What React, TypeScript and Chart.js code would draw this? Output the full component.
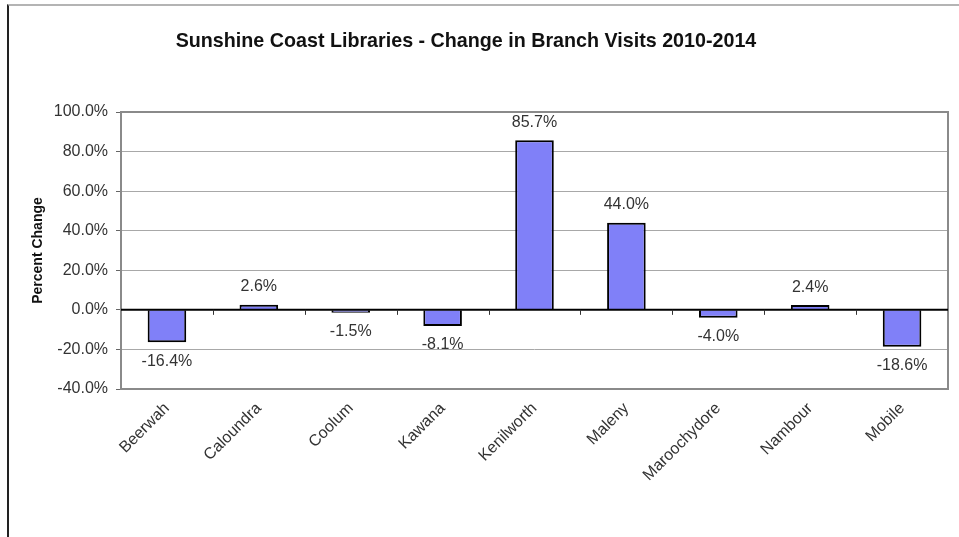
import React, { useEffect, useRef } from "react";
import { Chart, registerables } from "chart.js";

Chart.register(...registerables);

const TITLE = "Sunshine Coast Libraries - Change in Branch Visits 2010-2014";
const Y_TITLE = "Percent Change";
const branches = ["Beerwah", "Caloundra", "Coolum", "Kawana", "Kenilworth", "Maleny", "Maroochydore", "Nambour", "Mobile"];
const changePct = [-16.4, 2.6, -1.5, -8.1, 85.7, 44.0, -4.0, 2.4, -18.6];
const yTicks = [-40, -20, 0, 20, 40, 60, 80, 100];

const FONT = "Arial, 'Liberation Sans', sans-serif";

const overlay = {
  id: "overlay",
  beforeDatasetsDraw(chart: any) {
    const { ctx, chartArea } = chart;
    ctx.save();
    ctx.strokeStyle = "#8a8a8a";
    ctx.lineWidth = 2;
    ctx.strokeRect(chartArea.left, chartArea.top, chartArea.right - chartArea.left, chartArea.bottom - chartArea.top);
    ctx.restore();
  },
  afterDatasetsDraw(chart: any) {
    const { ctx, chartArea, scales } = chart;
    const xs = scales.x;
    const ys = scales.y;
    const y0 = ys.getPixelForValue(0);
    ctx.save();
    ctx.strokeStyle = "#000";
    ctx.lineWidth = 2;
    ctx.beginPath();
    ctx.moveTo(chartArea.left, y0);
    ctx.lineTo(chartArea.right, y0);
    ctx.stroke();
    ctx.lineWidth = 1;
    ctx.strokeStyle = "#333";
    for (let i = 1; i < branches.length; i++) {
      const x = Math.round((xs.getPixelForValue(i - 1) + xs.getPixelForValue(i)) / 2) + 0.5;
      ctx.beginPath();
      ctx.moveTo(x, y0);
      ctx.lineTo(x, y0 + 5);
      ctx.stroke();
    }
    const meta = chart.getDatasetMeta(0);
    ctx.fillStyle = "#333";
    ctx.font = `16px ${FONT}`;
    ctx.textAlign = "center";
    ctx.textBaseline = "middle";
    meta.data.forEach((el: any, i: number) => {
      const v = changePct[i];
      const y = v >= 0 ? el.y - 18 : el.y + 19;
      ctx.fillText(v.toFixed(1) + "%", el.x, y);
    });
    ctx.fillStyle = "#111";
    ctx.font = `bold 19.7px ${FONT}`;
    ctx.fillText(TITLE, 466, 42);
    ctx.restore();
  },
};

export default function App() {
  const ref = useRef<HTMLCanvasElement>(null);
  useEffect(() => {
    if (!ref.current) return;
    const chart = new Chart(ref.current, {
      type: "bar",
      data: {
        labels: branches,
        datasets: [
          {
            data: changePct,
            backgroundColor: "#8080f8",
            borderColor: "#000",
            borderWidth: 2,
            barPercentage: 0.42,
            categoryPercentage: 1,
          },
        ],
      },
      options: {
        responsive: false,
        animation: false,
        layout: { padding: { left: 30, right: 11, top: 112, bottom: 0 } },
        plugins: { legend: { display: false }, title: { display: false }, tooltip: { enabled: false } },
        scales: {
          x: {
            grid: { display: false, drawTicks: false },
            border: { display: false },
            ticks: {
              color: "#333",
              font: { family: FONT, size: 16 },
              maxRotation: 45,
              minRotation: 45,
              padding: 10,
            },
            afterFit(scale: any) {
              scale.height = 148;
            },
          },
          y: {
            min: -40,
            max: 100,
            afterBuildTicks(scale: any) {
              scale.ticks = yTicks.map((v) => ({ value: v }));
            },
            grid: { color: "#a8a8a8", lineWidth: 1, tickLength: 5, drawTicks: true, tickColor: "#666" },
            border: { display: false },
            ticks: {
              color: "#333",
              font: { family: FONT, size: 16 },
              padding: 8,
              callback: (v: any) => Number(v).toFixed(1) + "%",
            },
            title: {
              display: true,
              text: Y_TITLE,
              color: "#111",
              font: { family: FONT, size: 14, weight: "bold" },
              padding: { top: 0, bottom: 2 },
            },
            afterFit(scale: any) {
              scale.width = 91;
            },
          },
        },
      },
      plugins: [overlay],
    });
    return () => chart.destroy();
  }, []);

  return (
    <div style={{ position: "fixed", left: 0, top: 0, width: 959, height: 537, background: "#fff", overflow: "hidden" }}>
      <div
        style={{
          position: "absolute",
          left: 7,
          top: 4,
          width: 960,
          height: 540,
          borderTop: "2px solid #b4b4b4",
          borderLeft: "2px solid #222",
        }}
      />
      <canvas ref={ref} width={959} height={537} style={{ position: "absolute", left: 0, top: 0 }} />
    </div>
  );
}
